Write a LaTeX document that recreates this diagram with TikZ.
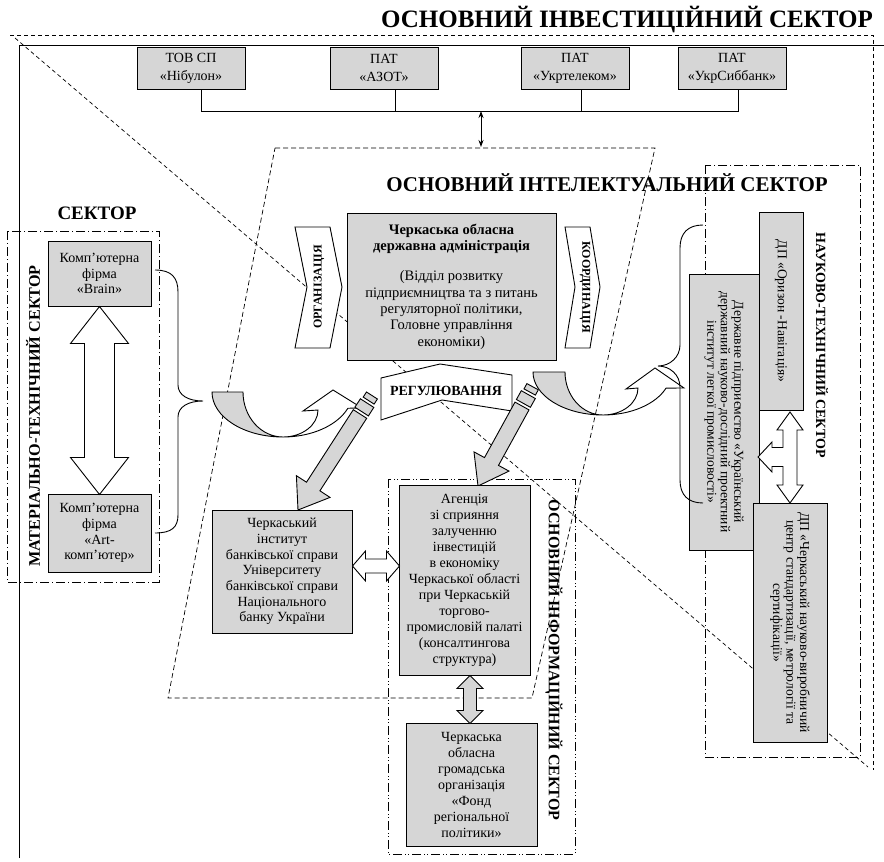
\documentclass[tikz,border=0pt]{standalone}
\usepackage{fontspec}
\setmainfont{Liberation Serif}
\usetikzlibrary{calc,arrows.meta}
\definecolor{boxgray}{gray}{0.84}
\tikzset{
  box/.style={draw, fill=boxgray, line width=1pt, align=center, inner sep=1pt,
    font=\fontsize{14}{15.7}\selectfont},
  topbox/.style={box, minimum width=108pt, minimum height=42pt, font=\fontsize{14}{18}\selectfont},
  rbox/.style={box, rotate=-90, font=\fontsize{13.6}{13.5}\selectfont},
  hollow/.style={draw, fill=white, line width=0.9pt},
  greyshape/.style={draw, fill=boxgray, line width=0.9pt},
  chev/.style={draw, fill=white, line width=0.9pt},
  title/.style={font=\bfseries\fontsize{#1}{#1}\selectfont, inner sep=0pt},
  thinframe/.style={line width=0.7pt},
}
\begin{document}
\begin{tikzpicture}[x=1pt,y=-1pt]
\useasboundingbox (0,0) rectangle (884,862);
\fill[white] (0,0) rectangle (884,862);
% investment sector (triangle)
\draw[thinframe, dash pattern=on 4pt off 3pt] (15,38) -- (868,767);
\draw[thinframe, dash pattern=on 4pt off 3pt] (10,35) -- (873,35) -- (873,770);
\draw[line width=1pt] (19,858) -- (19,45) -- (884,45);
% intellectual sector
\draw[thinframe, dash pattern=on 5pt off 3pt] (275,148) -- (655,148) -- (532,698) -- (168,698) -- cycle;
% material-technical sector
\draw[thinframe, dash pattern=on 9pt off 3pt on 1pt off 3pt] (7,231) rectangle (159,582);
% informational sector
\draw[thinframe, dash pattern=on 9pt off 3pt on 1pt off 2pt on 1pt off 3pt] (388,479) rectangle (575,854);
% science-tech sector
\draw[thinframe, dash pattern=on 9pt off 3pt on 1pt off 3pt] (705,165) rectangle (860,757);

% titles
\node[title=25] (t1) at (627,20) {ОСНОВНИЙ ІНВЕСТИЦІЙНИЙ СЕКТОР};
\node[title=21] (t2) at (607,183) {ОСНОВНИЙ ІНТЕЛЕКТУАЛЬНИЙ СЕКТОР};
\node[title=19] (t3) at (97,213) {СЕКТОР};
\node[title=16.2, rotate=90] (t4) at (33,416) {МАТЕРІАЛЬНО-ТЕХНІЧНИЙ СЕКТОР};
\node[title=16, rotate=-90] (t5) at (554,660) {ОСНОВНИЙ ІНФОРМАЦІЙНИЙ СЕКТОР};
\node[title=14, rotate=-90] (t6) at (822,345) {НАУКОВО-ТЕХНІЧНИЙ СЕКТОР};

% top boxes
\node[topbox] (b1) at (191,68) {ТОВ СП\\«Нібулон»};
\node[topbox] (b2) at (384,68) {ПАТ\\«АЗОТ»};
\node[topbox] (b3) at (575,68) {ПАТ\\«Укртелеком»};
\node[topbox] (b4) at (732,68) {ПАТ\\«УкрСиббанк»};
\coordinate (d1) at (201,111);
\coordinate (d2) at (395,111);
\coordinate (d3) at (581,111);
\coordinate (d4) at (738,111);
\coordinate (dm) at (481,111);
\coordinate (intop) at (481,147);
\draw[line width=0.9pt] (d1 |- b1.south) -- (d1) -- (d4) -- (d4 |- b4.south);
\draw[line width=0.9pt] (d2 |- b2.south) -- (d2);
\draw[line width=0.9pt] (d3 |- b3.south) -- (d3);
\draw[line width=0.9pt, {Stealth[length=7pt,width=5pt]}-{Stealth[length=7pt,width=5pt]}] (dm) -- (intop);

% material-technical boxes
\node[box, minimum width=103pt, minimum height=65pt] (brain) at (99.5,273.5) {Комп’ютерна\\фірма\\«Brain»};
\node[box, minimum width=103pt, minimum height=78pt] (art) at (99.5,533) {Комп’ютерна\\фірма\\«Art-\\комп’ютер»};
\begin{scope}[shift={(brain.south)}]
\draw[hollow] (0,0) -- (29,37) -- (15,37) -- (15,151) -- (29,151) -- (0,188) -- (-29,151) -- (-15,151) -- (-15,37) -- (-29,37) -- cycle;
\end{scope}

% regional administration
\node[box, minimum width=209pt, minimum height=147pt, font=\fontsize{14.5}{16.3}\selectfont] (oda) at (451.5,286.5) {\textbf{Черкаська обласна}\\\textbf{державна адміністрація}\\[14pt](Відділ розвитку\\підприємництва та з питань\\регуляторної політики,\\Головне управління\\економіки)};

% chevrons
\draw[chev] (295,227) -- (330,227) -- (342,287) -- (330,348) -- (295,348) -- (307,287) -- cycle;
\node[title=12, rotate=90] (org) at (319,287) {ОРГАНІЗАЦІЯ};
\draw[chev] (565,227) -- (590,227) -- (600,287) -- (590,348) -- (565,348) -- (575,287) -- cycle;
\node[title=12, rotate=-90] (koord) at (585,287) {КООРДИНАЦІЯ};
\draw[chev] (381,378) -- (440,364) -- (512,375) -- (512,411) -- (442,400) -- (381,420) -- cycle;
\node[title=14] (reg) at (446,391) {РЕГУЛЮВАННЯ};

% curved arrows
\draw[greyshape] (212,392) arc[start angle=180,end angle=90,x radius=71,y radius=45] arc[start angle=90,end angle=180,x radius=40,y radius=45] -- cycle;
\draw[hollow] (283,437) arc[start angle=90,end angle=22,x radius=70,y radius=46] -- (362,408) -- (333,390) -- (303,411) -- (318,410) arc[start angle=0,end angle=90,x radius=35,y radius=27] -- cycle;
\draw[greyshape] (533,372) arc[start angle=180,end angle=90,x radius=70,y radius=43] arc[start angle=90,end angle=180,x radius=38,y radius=43] -- cycle;
\draw[hollow] (603,415) arc[start angle=90,end angle=22,x radius=68,y radius=43] -- (684,388) -- (655,368) -- (626,389) -- (638,388) arc[start angle=0,end angle=90,x radius=35,y radius=27] -- cycle;

% pencil arrows
\draw[greyshape] (366.7,418.3) -- (319.9,490.8) -- (330.0,497.4) -- (298,510) -- (296.4,475.7) -- (306.5,482.2) -- (353.3,409.7) -- cycle;
\draw[greyshape] (368.4,415.9) -- (373.8,407.4) -- (360.4,398.8) -- (354.9,407.2) -- cycle;
\draw[greyshape] (374.1,404.1) -- (377.4,399.0) -- (366.5,392.0) -- (363.2,397.1) -- cycle;
\draw[greyshape] (529.0,409.9) -- (498.5,465.4) -- (509.0,471.1) -- (478,486) -- (474.0,451.9) -- (484.5,457.6) -- (515.0,402.1) -- cycle;
\draw[greyshape] (530.4,407.3) -- (535.3,398.5) -- (521.3,390.7) -- (516.4,399.5) -- cycle;
\draw[greyshape] (535.4,395.1) -- (538.3,389.8) -- (526.9,383.6) -- (524.0,388.9) -- cycle;

% lower boxes
\node[box, minimum width=140pt, minimum height=123pt] (inst) at (282,571.5) {Черкаський\\інститут\\банківської справи\\Університету\\банківської справи\\Національного\\банку України};
\node[box, minimum width=131pt, minimum height=190pt, font=\fontsize{14}{16}\selectfont] (ag) at (464.5,580) {Агенція\\зі сприяння\\залученню\\інвестицій\\в економіку\\Черкаської області\\при Черкаській\\торгово-\\промисловій палаті\\(консалтингова\\структура)};
\node[box, minimum width=131pt, minimum height=123pt, font=\fontsize{14}{16}\selectfont] (fond) at (471.5,784.5) {Черкаська\\обласна\\громадська\\організація\\«Фонд\\регіональної\\політики»};
\begin{scope}[shift={(inst.east |- 0,566)}]
\draw[hollow] (0,0) -- (13,-15) -- (13,-7) -- (34,-7) -- (34,-15) -- (47,0) -- (34,15) -- (34,7) -- (13,7) -- (13,15) -- cycle;
\end{scope}
\begin{scope}[shift={(ag.south -| 470,0)}]
\draw[greyshape] (0,0) -- (13,13) -- (6.5,13) -- (6.5,35) -- (13,35) -- (0,48) -- (-13,35) -- (-6.5,35) -- (-6.5,13) -- (-13,13) -- cycle;
\end{scope}

% science-tech boxes
\node[rbox, minimum width=198pt, minimum height=44pt] (oriz) at (781,311) {ДП «Оризон -Навігація»};
\node[rbox, minimum width=276pt, minimum height=70pt] (derzh) at (724,412) {Державне підприємство «Український\\державний науково-дослідний проектний\\інститут легкої промисловості»};
\node[rbox, minimum width=239pt, minimum height=74pt] (cherk) at (790,622.5) {ДП «Черкаський науково-виробничий\\центр стандартизації, метрології та\\сертифікації»};
\draw[hollow] (790,412) -- (803,430) -- (797,430) -- (797,485) -- (803,485) -- (790,503) -- (777,485) -- (783,485) -- (783,466.5) -- (772,466.5) -- (772,472) -- (758,457) -- (772,442) -- (772,447.5) -- (783,447.5) -- (783,430) -- (777,430) -- cycle;

% braces
\draw[line width=0.9pt] (155,270) .. controls (172,270) and (178,278) .. (178,292) -- (178,385) .. controls (178,395) and (188,401) .. (203,401) .. controls (188,401) and (178,407) .. (178,417) -- (178,515) .. controls (178,527) and (172,533) .. (155,533);
\draw[line width=0.9pt] (703,225) .. controls (688,225) and (680,233) .. (680,248) -- (680,345) .. controls (680,357) and (670,366) .. (658,366) .. controls (670,366) and (680,375) .. (680,387) -- (680,480) .. controls (680,495) and (688,503) .. (703,503);
\end{tikzpicture}
\end{document}
